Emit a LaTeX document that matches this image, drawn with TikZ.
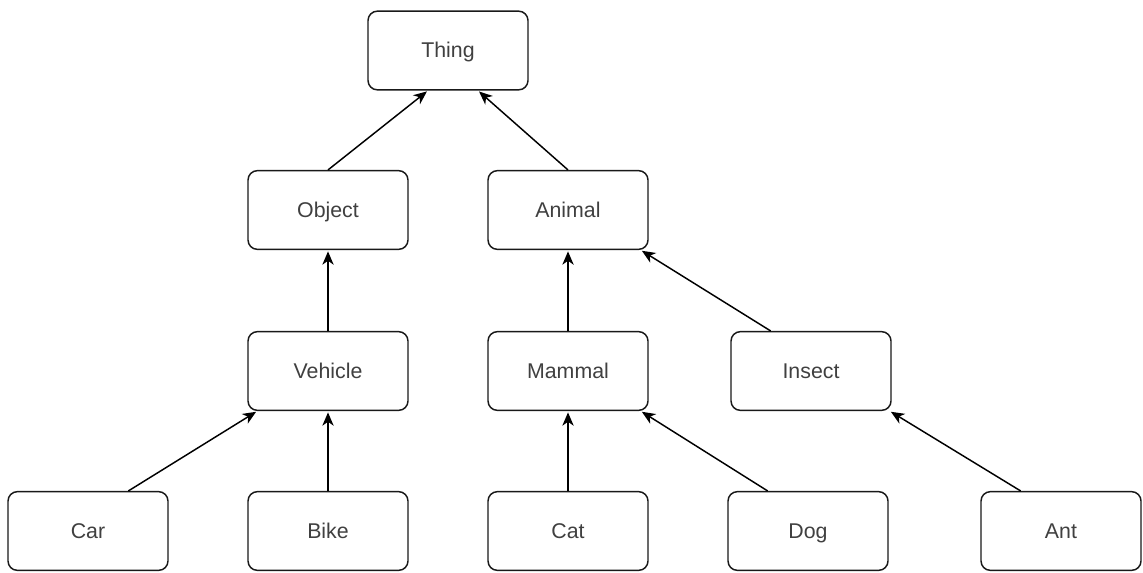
\documentclass[tikz,border=0pt]{standalone}
\usepackage{fontspec}
\setmainfont{Liberation Sans}
\usetikzlibrary{calc,arrows.meta}
\begin{document}
\begin{tikzpicture}[x=0.75pt,y=-0.75pt,
  box/.style={draw=black!90,line width=1.1pt,rounded corners=7pt,fill=white,
    minimum width=120pt,minimum height=59pt,inner sep=0pt,
    text height=13pt,text depth=2pt,
    text=black!75,font=\fontsize{16}{18}\selectfont},
  arr/.style={draw=black,line width=1.1pt,shorten >=1pt,
    -{Stealth[length=10pt,width=8.5pt,inset=3pt]}}]
\useasboundingbox (0,0) rectangle (1143,572);
% hierarchy boxes
\node[box] (thing)   at (448,50.5) {Thing};
\node[box] (object)  at (328,210)  {Object};
\node[box] (animal)  at (568,210)  {Animal};
\node[box] (vehicle) at (328,371)  {Vehicle};
\node[box] (mammal)  at (568,371)  {Mammal};
\node[box] (insect)  at (811,371)  {Insect};
\node[box] (car)     at (88,531)   {Car};
\node[box] (bike)    at (328,531)  {Bike};
\node[box] (cat)     at (568,531)  {Cat};
\node[box] (dog)     at (808,531)  {Dog};
\node[box] (ant)     at (1061,531) {Ant};
% is-a links, child to parent
\draw[arr] (object.north) -- ([xshift=-15pt]thing.south);
\draw[arr] (animal.north) -- ([xshift=22.5pt]thing.south);
\draw[arr] (vehicle.north) -- (object.south);
\draw[arr] (mammal.north) -- (animal.south);
\draw[arr] ($(insect.north west)!0.25!(insect.north east)$) -- ([xshift=-6pt]animal.south east);
\draw[arr] ($(car.north west)!0.75!(car.north east)$) -- ([xshift=7.5pt]vehicle.south west);
\draw[arr] (bike.north) -- (vehicle.south);
\draw[arr] (cat.north) -- (mammal.south);
\draw[arr] ($(dog.north west)!0.25!(dog.north east)$) -- ([xshift=-6pt]mammal.south east);
\draw[arr] ($(ant.north west)!0.25!(ant.north east)$) -- ([xshift=-1.5pt]insect.south east);
\end{tikzpicture}
\end{document}
